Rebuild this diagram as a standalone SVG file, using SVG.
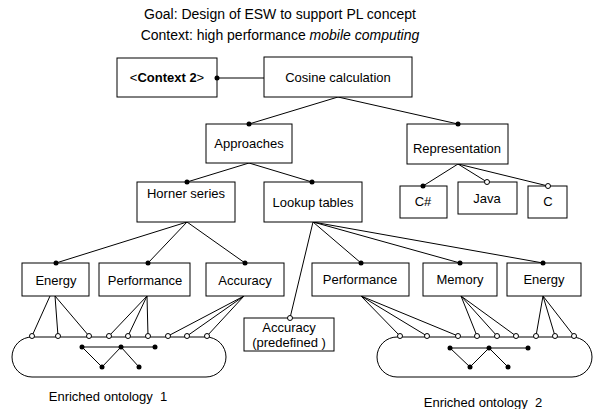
<svg xmlns="http://www.w3.org/2000/svg" width="593" height="409" viewBox="0 0 593 409">
<style>
text{font-family:"Liberation Sans",Arial,sans-serif;font-size:13px;fill:#000;text-anchor:middle}
.title{font-size:14px}
.box{fill:#fff;stroke:#000;stroke-width:1}
.cap{fill:#fff;stroke:#000;stroke-width:1}
.ln{stroke:#000;stroke-width:1;fill:none}
.dot{fill:#000}
.oc{fill:#fff;stroke:#000;stroke-width:1}
</style>
<rect width="593" height="409" fill="#fff"/>
<g id="title">
<text class="title" x="280" y="19">Goal: Design of ESW to support PL concept</text>
<text class="title" x="280" y="40">Context: high performance <tspan font-style="italic">mobile computing</tspan></text>
</g>
<g id="connectors">
<line class="ln" x1="217" y1="78" x2="264" y2="78"/>
<line class="ln" x1="338" y1="97" x2="249" y2="124"/>
<line class="ln" x1="338" y1="97" x2="458" y2="124"/>
<line class="ln" x1="249" y1="163" x2="187" y2="182"/>
<line class="ln" x1="249" y1="163" x2="312" y2="182"/>
<line class="ln" x1="458" y1="164" x2="423" y2="186"/>
<line class="ln" x1="458" y1="164" x2="487" y2="182"/>
<line class="ln" x1="458" y1="164" x2="548" y2="186"/>
<line class="ln" x1="187" y1="222" x2="56" y2="263"/>
<line class="ln" x1="187" y1="222" x2="148" y2="263"/>
<line class="ln" x1="187" y1="222" x2="245" y2="263"/>
<line class="ln" x1="313" y1="222" x2="290" y2="318"/>
<line class="ln" x1="313" y1="222" x2="361" y2="263"/>
<line class="ln" x1="313" y1="222" x2="460" y2="263"/>
<line class="ln" x1="313" y1="222" x2="543" y2="263"/>
<line class="ln" x1="50" y1="296" x2="32" y2="336"/>
<line class="ln" x1="55" y1="296" x2="58" y2="336"/>
<line class="ln" x1="55" y1="296" x2="89" y2="336"/>
<line class="ln" x1="147" y1="296" x2="109" y2="336"/>
<line class="ln" x1="147" y1="296" x2="128" y2="336"/>
<line class="ln" x1="147" y1="296" x2="148" y2="336"/>
<line class="ln" x1="244" y1="296" x2="168" y2="336"/>
<line class="ln" x1="244" y1="296" x2="187" y2="336"/>
<line class="ln" x1="244" y1="296" x2="207" y2="336"/>
<line class="ln" x1="361" y1="296" x2="400" y2="336"/>
<line class="ln" x1="361" y1="296" x2="427" y2="336"/>
<line class="ln" x1="361" y1="296" x2="458" y2="336"/>
<line class="ln" x1="461" y1="296" x2="477" y2="336"/>
<line class="ln" x1="461" y1="296" x2="497" y2="336"/>
<line class="ln" x1="461" y1="296" x2="516" y2="336"/>
<line class="ln" x1="543" y1="296" x2="536" y2="336"/>
<line class="ln" x1="543" y1="296" x2="555" y2="336"/>
<line class="ln" x1="543" y1="296" x2="574" y2="336"/>
</g>
<g id="context2">
<rect class="box" x="117" y="58" width="100" height="39"/>
<text x="167" y="82">&lt;<tspan font-weight="bold">Context 2</tspan>&gt;</text>
</g>
<g id="cosine">
<rect class="box" x="264" y="57" width="148" height="40"/>
<text x="338" y="82">Cosine calculation</text>
</g>
<g id="approaches">
<rect class="box" x="206" y="124" width="86" height="39"/>
<text x="249" y="148">Approaches</text>
</g>
<g id="representation">
<rect class="box" x="407" y="124" width="101" height="40"/>
<text x="457" y="153">Representation</text>
</g>
<g id="csharp">
<rect class="box" x="400" y="186" width="47" height="32"/>
<text x="423" y="206">C#</text>
</g>
<g id="java">
<rect class="box" x="458" y="182" width="59" height="32"/>
<text x="487" y="203">Java</text>
</g>
<g id="c">
<rect class="box" x="528" y="186" width="39" height="32"/>
<text x="548" y="206">C</text>
</g>
<g id="horner">
<rect class="box" x="137" y="182" width="98" height="40"/>
<text x="186" y="198">Horner series</text>
</g>
<g id="lookup">
<rect class="box" x="264" y="182" width="98" height="40"/>
<text x="313" y="207">Lookup tables</text>
</g>
<g id="energy1">
<rect class="box" x="22" y="263" width="67" height="33"/>
<text x="56" y="285">Energy</text>
</g>
<g id="performance1">
<rect class="box" x="99" y="263" width="91" height="33"/>
<text x="145" y="285">Performance</text>
</g>
<g id="accuracy1">
<rect class="box" x="206" y="263" width="78" height="33"/>
<text x="245" y="285">Accuracy</text>
</g>
<g id="accuracy-predefined">
<rect class="box" x="244" y="318" width="90" height="33"/>
<text x="289" y="332">Accuracy</text>
<text x="289" y="347">(predefined )</text>
</g>
<g id="performance2">
<rect class="box" x="312" y="263" width="97" height="33"/>
<text x="360" y="284">Performance</text>
</g>
<g id="memory">
<rect class="box" x="423" y="263" width="74" height="33"/>
<text x="460" y="284">Memory</text>
</g>
<g id="energy2">
<rect class="box" x="507" y="263" width="74" height="33"/>
<text x="544" y="284">Energy</text>
</g>
<g id="ontology1">
<rect class="cap" x="12" y="337" width="214" height="40" rx="20" ry="20"/>
<line class="ln" x1="82" y1="347" x2="155" y2="347"/>
<polyline class="ln" points="82,347 102,367 121,347 139,367"/>
<circle class="dot" cx="82" cy="347" r="2.5"/>
<circle class="dot" cx="121" cy="347" r="2.5"/>
<circle class="dot" cx="155" cy="347" r="2.5"/>
<circle class="dot" cx="102" cy="367" r="2.5"/>
<circle class="dot" cx="139" cy="367" r="2.5"/>
<text x="108" y="401" style="white-space:pre">Enriched ontology  1</text>
</g>
<g id="ontology2">
<rect class="cap" x="377" y="337" width="215" height="40" rx="20" ry="20"/>
<line class="ln" x1="450" y1="348" x2="528" y2="348"/>
<polyline class="ln" points="450,348 470,367 489,348 508,367"/>
<circle class="dot" cx="450" cy="348" r="2.5"/>
<circle class="dot" cx="489" cy="348" r="2.5"/>
<circle class="dot" cx="528" cy="348" r="2.5"/>
<circle class="dot" cx="470" cy="367" r="2.5"/>
<circle class="dot" cx="508" cy="367" r="2.5"/>
<text x="483" y="407" style="white-space:pre">Enriched ontology  2</text>
</g>
<g id="ends">
<circle class="dot" cx="217" cy="78" r="2.5"/>
<circle class="dot" cx="249" cy="124" r="2.5"/>
<circle class="dot" cx="458" cy="124" r="2.5"/>
<circle class="dot" cx="187" cy="182" r="2.5"/>
<circle class="dot" cx="312" cy="182" r="2.5"/>
<circle class="dot" cx="423" cy="186" r="2.5"/>
<circle class="oc" cx="487" cy="182" r="2.5"/>
<circle class="oc" cx="548" cy="186" r="2.5"/>
<circle class="dot" cx="56" cy="263" r="2.5"/>
<circle class="dot" cx="148" cy="263" r="2.5"/>
<circle class="dot" cx="245" cy="263" r="2.5"/>
<circle class="oc" cx="290" cy="318" r="2.5"/>
<circle class="dot" cx="361" cy="263" r="2.5"/>
<circle class="dot" cx="460" cy="263" r="2.5"/>
<circle class="dot" cx="543" cy="263" r="2.5"/>
<circle class="oc" cx="32" cy="336" r="2.5"/>
<circle class="oc" cx="58" cy="336" r="2.5"/>
<circle class="oc" cx="89" cy="336" r="2.5"/>
<circle class="oc" cx="109" cy="336" r="2.5"/>
<circle class="oc" cx="128" cy="336" r="2.5"/>
<circle class="oc" cx="148" cy="336" r="2.5"/>
<circle class="oc" cx="168" cy="336" r="2.5"/>
<circle class="oc" cx="187" cy="336" r="2.5"/>
<circle class="oc" cx="207" cy="336" r="2.5"/>
<circle class="oc" cx="400" cy="336" r="2.5"/>
<circle class="oc" cx="427" cy="336" r="2.5"/>
<circle class="oc" cx="458" cy="336" r="2.5"/>
<circle class="oc" cx="477" cy="336" r="2.5"/>
<circle class="oc" cx="497" cy="336" r="2.5"/>
<circle class="oc" cx="516" cy="336" r="2.5"/>
<circle class="oc" cx="536" cy="336" r="2.5"/>
<circle class="oc" cx="555" cy="336" r="2.5"/>
<circle class="oc" cx="574" cy="336" r="2.5"/>
</g>
</svg>
